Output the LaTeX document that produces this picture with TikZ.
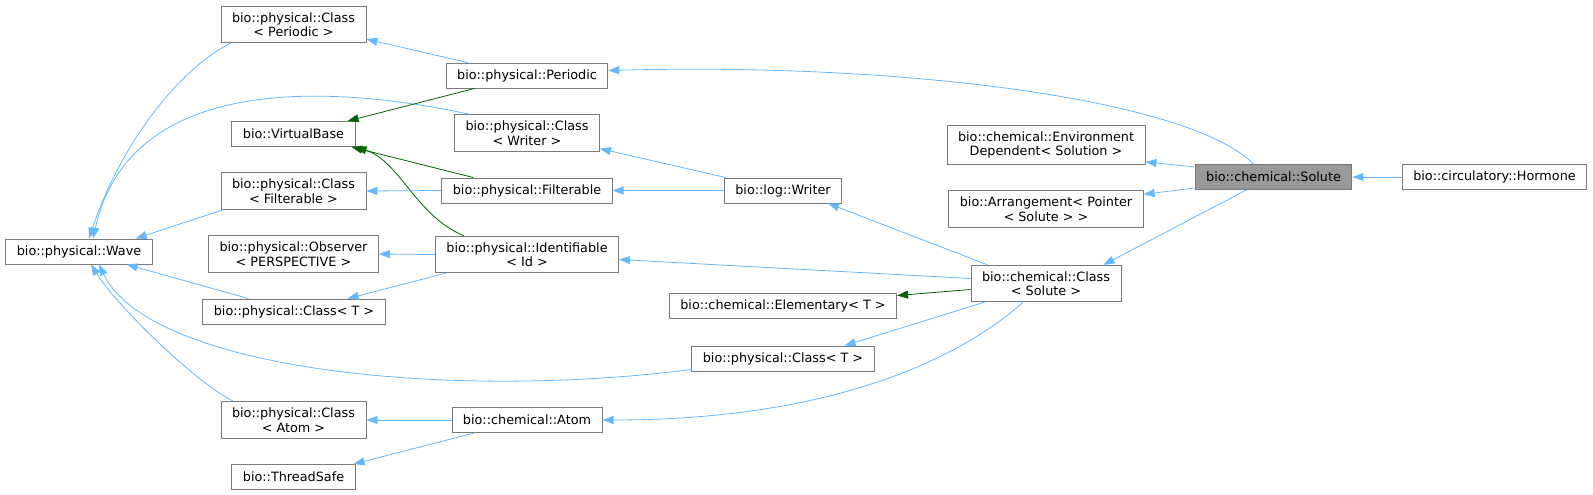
\documentclass[tikz,border=0pt]{standalone}
\usepackage{fontspec}
\setmainfont{DejaVu Sans}
\usetikzlibrary{arrows.meta}
\definecolor{inhblue}{HTML}{63B8FF}
\definecolor{virtgreen}{HTML}{006400}
\definecolor{boxgray}{HTML}{7A7A7A}
\definecolor{curgray}{HTML}{999999}

\begin{document}
\begin{tikzpicture}[x=1pt,y=-1pt,
    cls/.style={draw=boxgray,fill=white,line width=0.9pt,inner xsep=11pt,inner ysep=6pt,
                minimum height=25pt,align=center,font=\fontsize{12.8}{14.5}\selectfont},
    cur/.style={cls,fill=curgray},
    inh/.style={draw=inhblue,line width=0.8pt,-{Triangle[length=11pt,width=8pt,fill=inhblue]}},
    virt/.style={draw=virtgreen,line width=0.8pt,-{Triangle[length=11pt,width=8pt,fill=virtgreen]}}]
   \useasboundingbox (0,0) rectangle (1593,495);

   % first column
   \node[cls] (wave) at (79,251.5) {bio::physical::Wave};

   % second column
   \node[cls] (cper)  at (293.5,24.5) {bio::physical::Class\\< Periodic >};
   \node[cls] (vbase) at (293.5,134)  {bio::VirtualBase};
   \node[cls] (cfilt) at (293.5,191)  {bio::physical::Class\\< Filterable >};
   \node[cls] (obs)   at (293.5,254)  {bio::physical::Observer\\< PERSPECTIVE >};
   \node[cls] (ctone) at (294,311.5)  {bio::physical::Class< T >};
   \node[cls] (catom) at (293.5,420)  {bio::physical::Class\\< Atom >};
   \node[cls] (tsafe) at (293.5,477)  {bio::ThreadSafe};

   % third column
   \node[cls] (per)   at (527,75.5)  {bio::physical::Periodic};
   \node[cls] (cwri)  at (527,133)   {bio::physical::Class\\< Writer >};
   \node[cls] (filt)  at (527,190.5) {bio::physical::Filterable};
   \node[cls] (ident) at (527,254.5) {bio::physical::Identifiable\\< Id >};
   \node[cls] (atom)  at (527,420)   {bio::chemical::Atom};

   % fourth column
   \node[cls] (writer) at (783,190.5) {bio::log::Writer};
   \node[cls] (elem)   at (783,305.5) {bio::chemical::Elementary< T >};
   \node[cls] (cttwo)  at (783,358.5) {bio::physical::Class< T >};

   % fifth column
   \node[cls] (env)    at (1046,145)   {bio::chemical::Environment\\Dependent< Solution >};
   \node[cls] (arr)    at (1046,209)   {bio::Arrangement< Pointer\\< Solute > >};
   \node[cls] (cclass) at (1046,283.5) {bio::chemical::Class\\< Solute >};

   % solute and hormone
   \node[cur] (solute)  at (1273.5,177) {bio::chemical::Solute};
   \node[cls] (hormone) at (1494.5,177) {bio::circulatory::Hormone};

   % into Wave
   \draw[inh] ([xshift=10pt]cper.south west) .. controls +(-55,28) and +(30,-90) .. ([xshift=10pt]wave.north);
   \draw[inh] ([xshift=-57pt]cwri.north) .. controls +(-140,-30) and +(37,-165) .. ([xshift=14pt]wave.north);
   \draw[inh] ([xshift=3pt]cfilt.south west) -- ([xshift=-17pt]wave.north east);
   \draw[inh] ([xshift=46pt]ctone.north west) -- ([xshift=-26pt]wave.south east);
   \draw[inh] ([yshift=2pt]cttwo.south west) .. controls +(-240,31) and +(51,106) .. ([xshift=20pt]wave.south);
   \draw[inh] ([xshift=13pt]catom.north west) .. controls +(-40,-20) and +(25,40) .. ([xshift=12pt]wave.south);

   % virtual base
   \draw[virt] ([xshift=29pt]per.south west) -- ([xshift=-8pt]vbase.north east);
   \draw[virt] ([xshift=32pt]filt.north west) -- ([xshift=-4pt]vbase.south east);
   \draw[virt] ([xshift=29pt]ident.north west) .. controls +(-48,-20) and +(44,14) .. (vbase.south east);

   % second to third column
   \draw[inh] ([xshift=22pt]per.north west) -- ([yshift=4pt]cper.south east);
   \draw[inh] (filt.west) -- (cfilt.east);
   \draw[inh] (ident.west) -- (obs.east);
   \draw[inh] ([xshift=11pt]ident.south west) -- ([xshift=-38pt]ctone.north east);
   \draw[inh] (atom.west) -- (catom.east);
   \draw[inh] ([xshift=23pt]atom.south west) -- ([xshift=-2pt]tsafe.north east);

   % writer
   \draw[inh] ([xshift=2pt]writer.north west) -- ([yshift=3pt]cwri.south east);
   \draw[inh] (writer.west) -- (filt.east);

   % chemical class
   \draw[inh] ([xshift=17pt]cclass.north west) -- ([xshift=-14pt]writer.south east);
   \draw[inh] ([yshift=5pt]cclass.west) -- ([yshift=-5pt]ident.east);
   \draw[virt] ([yshift=-6pt]cclass.west) -- ([yshift=10pt]elem.east);
   \draw[inh] ([xshift=14pt]cclass.south west) -- ([xshift=-30pt]cttwo.north east);
   \draw[inh] ([xshift=-23pt]cclass.south) .. controls +(-50,45) and +(250,0) .. (atom.east);

   % solute
   \draw[inh] ([xshift=-20pt]solute.north) .. controls +(-63,-64) and +(300,-8) .. ([yshift=5pt]per.east);
   \draw[inh] ([yshift=10pt]solute.west) -- ([yshift=3pt]env.south east);
   \draw[inh] ([yshift=-11pt]solute.west) -- ([yshift=-4pt]arr.north east);
   \draw[inh] ([xshift=-27pt]solute.south) -- ([xshift=-18pt]cclass.north east);
   \draw[inh] (hormone.west) -- (solute.east);
\end{tikzpicture}
\end{document}
